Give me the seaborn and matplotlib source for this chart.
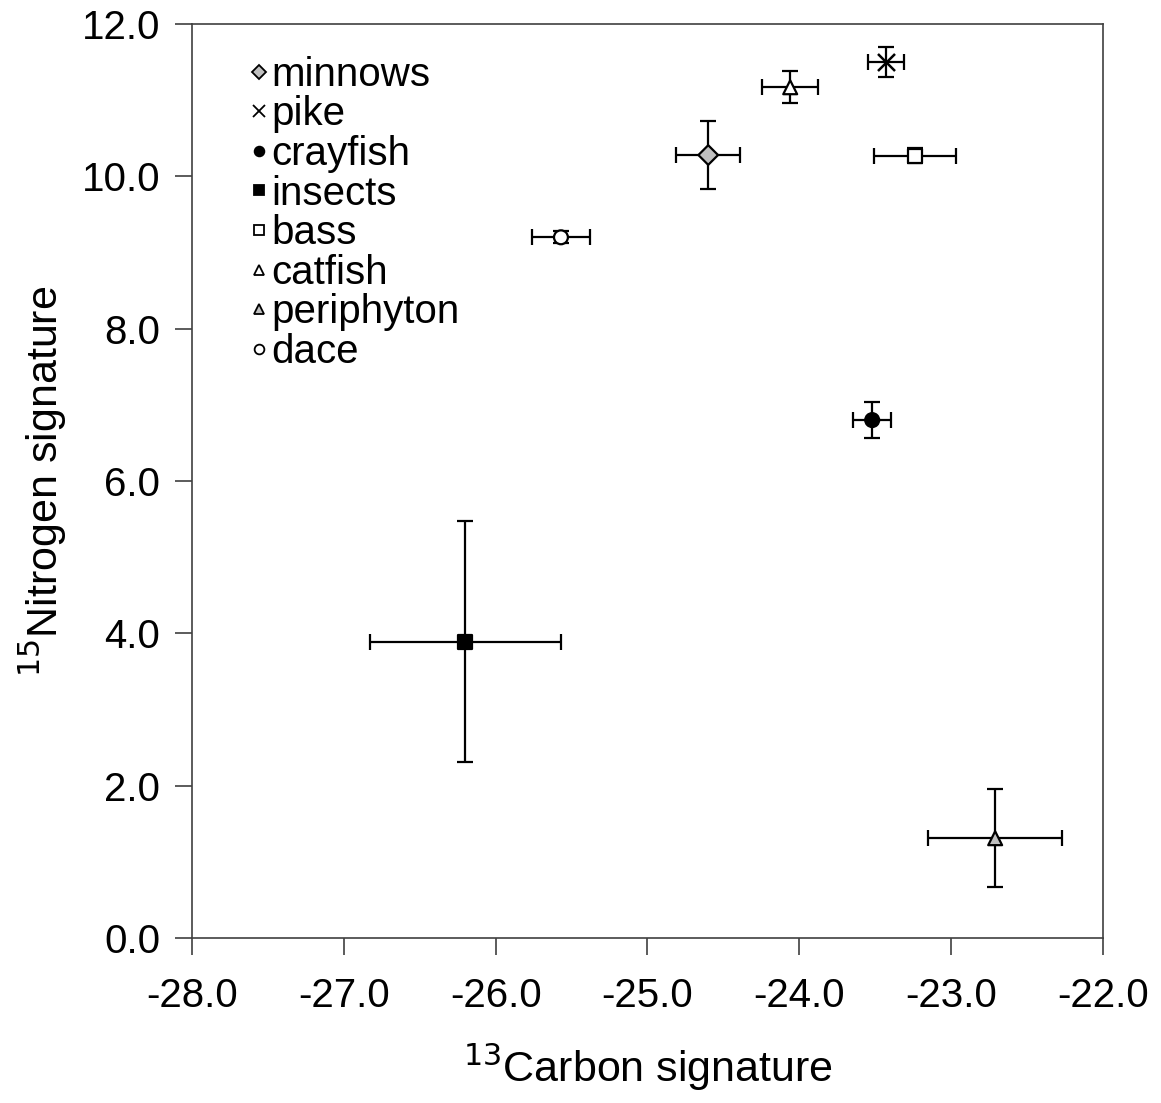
import matplotlib
matplotlib.use("Agg")
import matplotlib.pyplot as plt
import pandas as pd
import seaborn as sns

species = ["minnows", "pike", "crayfish", "insects", "bass", "catfish", "periphyton", "dace"]
carbon = [-24.60, -23.43, -23.52, -26.20, -23.24, -24.06, -22.71, -25.57]
nitrogen = [10.28, 11.50, 6.80, 3.89, 10.27, 11.17, 1.31, 9.20]
carbon_err = [0.21, 0.12, 0.125, 0.63, 0.27, 0.185, 0.44, 0.19]
nitrogen_err = [0.45, 0.20, 0.24, 1.58, 0.10, 0.21, 0.64, 0.08]

markers = {"minnows": "D", "pike": "x", "crayfish": "o", "insects": "s",
           "bass": "s", "catfish": "^", "periphyton": "^", "dace": "o"}
fills = {"minnows": "#c0c0c0", "pike": "black", "crayfish": "black", "insects": "black",
         "bass": "white", "catfish": "white", "periphyton": "#c0c0c0", "dace": "white"}

df = pd.DataFrame({"species": species, "carbon": carbon, "nitrogen": nitrogen,
                   "carbon_err": carbon_err, "nitrogen_err": nitrogen_err})
filled = df[df["species"] != "pike"]
lineart = df[df["species"] == "pike"]

sns.set_style("ticks")
plt.rcParams["font.family"] = ["Liberation Sans", "DejaVu Sans"]
plt.rcParams["text.color"] = "black"
plt.rcParams["axes.labelcolor"] = "black"
plt.rcParams["xtick.color"] = "#404040"
plt.rcParams["ytick.color"] = "#404040"
plt.rcParams["xtick.labelcolor"] = "black"
plt.rcParams["ytick.labelcolor"] = "black"

fig = plt.figure(figsize=(11.61, 11.03), dpi=100)
ax = fig.add_axes([0.1654, 0.1496, 0.7846, 0.8286])

ax.errorbar(df["carbon"], df["nitrogen"], xerr=df["carbon_err"], yerr=df["nitrogen_err"],
            fmt="none", ecolor="black", elinewidth=1.6, capsize=5.5, capthick=1.6, zorder=2)

sns.scatterplot(data=filled, x="carbon", y="nitrogen", hue="species", style="species",
                palette={k: fills[k] for k in filled["species"]},
                markers={k: markers[k] for k in filled["species"]},
                s=100, edgecolor="black", linewidth=1.6, ax=ax, zorder=3, legend=False)
# x marker is line art, so it goes in its own call
sns.scatterplot(data=lineart, x="carbon", y="nitrogen", marker="x", s=150, color="black",
                linewidth=1.8, ax=ax, zorder=4, legend=False)

handles = []
for sp in species:
    mk = markers[sp]
    h = plt.Line2D([], [], linestyle="none", marker=mk, markersize=7 if mk != "x" else 8,
                   markerfacecolor=fills[sp], markeredgecolor="black", markeredgewidth=1.3,
                   color="black")
    handles.append(h)
ax.legend(handles, species, loc="upper left", bbox_to_anchor=(0.036, 0.983), frameon=False,
          fontsize=29, handletextpad=-0.15, labelspacing=0.04, handlelength=0.9,
          borderaxespad=0)

ax.set_xlim(-28, -22)
ax.set_ylim(0, 12)
ax.set_xticks([-28, -27, -26, -25, -24, -23, -22])
ax.set_yticks([0, 2, 4, 6, 8, 10, 12])
ax.set_xticklabels([f"{v:.1f}" for v in ax.get_xticks()])
ax.set_yticklabels([f"{v:.1f}" for v in ax.get_yticks()])
ax.tick_params(labelsize=29, length=12, width=1.2, direction="out")
ax.tick_params(axis="x", pad=16)
ax.tick_params(axis="y", pad=11)
for s in ax.spines.values():
    s.set_linewidth(1.2)
    s.set_color("#404040")

ax.set_xlabel("$^{13}$Carbon signature", fontsize=31, labelpad=19)
ax.set_ylabel("$^{15}$Nitrogen signature", fontsize=31, labelpad=9)

fig.savefig("out.png", dpi=100)
